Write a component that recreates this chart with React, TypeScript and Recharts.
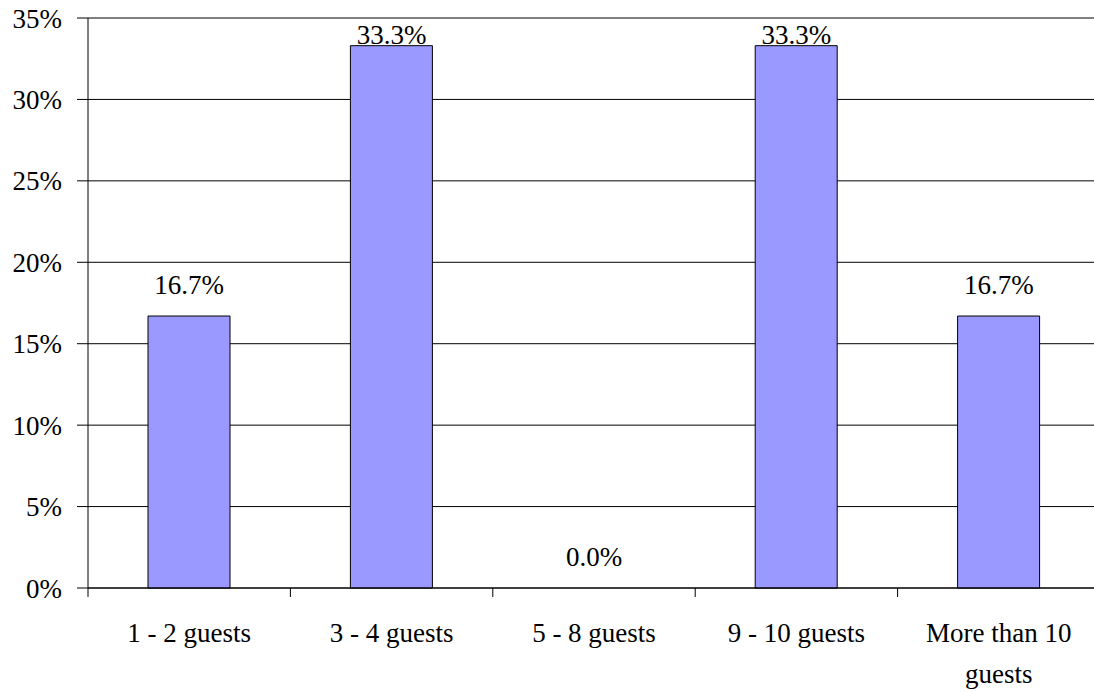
import React from 'react'
import { ComposedChart, Bar, Line, XAxis, YAxis, CartesianGrid, LabelList } from 'recharts'

const categories = ['1 - 2 guests', '3 - 4 guests', '5 - 8 guests', '9 - 10 guests', 'More than 10 guests']
const shares = [16.7, 33.3, 0.0, 33.3, 16.7]
const yTicks = [0, 5, 10, 15, 20, 25, 30, 35]

const data = categories.map((name, i) => ({ name, share: shares[i] }))

const FONT = '"Liberation Serif", "Times New Roman", serif'
const X_TICK_SIZE = 9
const X_TICK_MARGIN = 26

// word wrap like excel does for long category names
function wrap(label: string, maxChars: number) {
  const lines: string[] = []
  let cur = ''
  for (const w of label.split(' ')) {
    const next = cur ? cur + ' ' + w : w
    if (next.length > maxChars && cur) {
      lines.push(cur)
      cur = w
    } else {
      cur = next
    }
  }
  if (cur) lines.push(cur)
  return lines
}

// label plus a tick mark on the category boundary (excel style)
function GuestTick(props: any) {
  const { x, y, payload, index, width, visibleTicksCount } = props
  const half = payload.offset ?? width / visibleTicksCount / 2
  const axisY = y - X_TICK_SIZE - X_TICK_MARGIN
  const lines = wrap(String(payload.value), 14)
  return (
    <g>
      <line x1={x - half} x2={x - half} y1={axisY} y2={axisY + X_TICK_SIZE} stroke="#000" />
      {index === visibleTicksCount - 1 && (
        <line x1={x + half} x2={x + half} y1={axisY} y2={axisY + X_TICK_SIZE} stroke="#000" />
      )}
      <text x={x} y={y} textAnchor="middle" fontFamily={FONT} fontSize={27} fill="#000">
        {lines.map((l, i) => (
          <tspan key={i} x={x} dy={i === 0 ? 19 : 41}>
            {l}
          </tspan>
        ))}
      </text>
    </g>
  )
}

function ValueLabel(props: any) {
  const { x, y, value } = props
  // excel keeps labels inside the plot area
  const baseline = Math.max(y - 22, 44)
  return (
    <text x={x} y={baseline} textAnchor="middle" fontFamily={FONT} fontSize={27} fill="#000">
      {Number(value).toFixed(1)}%
    </text>
  )
}

export default function App() {
  return (
    <div style={{ position: 'absolute', left: 0, top: 0, width: 1094, height: 692, overflow: 'hidden', background: '#fff' }}>
      <ComposedChart width={1100} height={692} data={data} margin={{ top: 18, right: 0, left: 0, bottom: 0 }}>
        <CartesianGrid vertical={false} stroke="#000" strokeWidth={1} />
        <XAxis
          dataKey="name"
          height={104}
          interval={0}
          tickSize={X_TICK_SIZE}
          tickMargin={X_TICK_MARGIN}
          tickLine={false}
          stroke="#000"
          tick={<GuestTick />}
        />
        <YAxis
          width={88}
          domain={[0, 35]}
          ticks={yTicks}
          interval={0}
          tickSize={11}
          tickMargin={15}
          stroke="#000"
          tickFormatter={(v: number) => `${v}%`}
          tick={{ fill: '#000', fontFamily: FONT, fontSize: 27 }}
        />
        <Bar dataKey="share" fill="#9999FF" stroke="#000" strokeWidth={1} barSize={82} isAnimationActive={false} />
        <Line dataKey="share" stroke="none" dot={false} activeDot={false} isAnimationActive={false}>
          <LabelList dataKey="share" content={<ValueLabel />} />
        </Line>
      </ComposedChart>
    </div>
  )
}
